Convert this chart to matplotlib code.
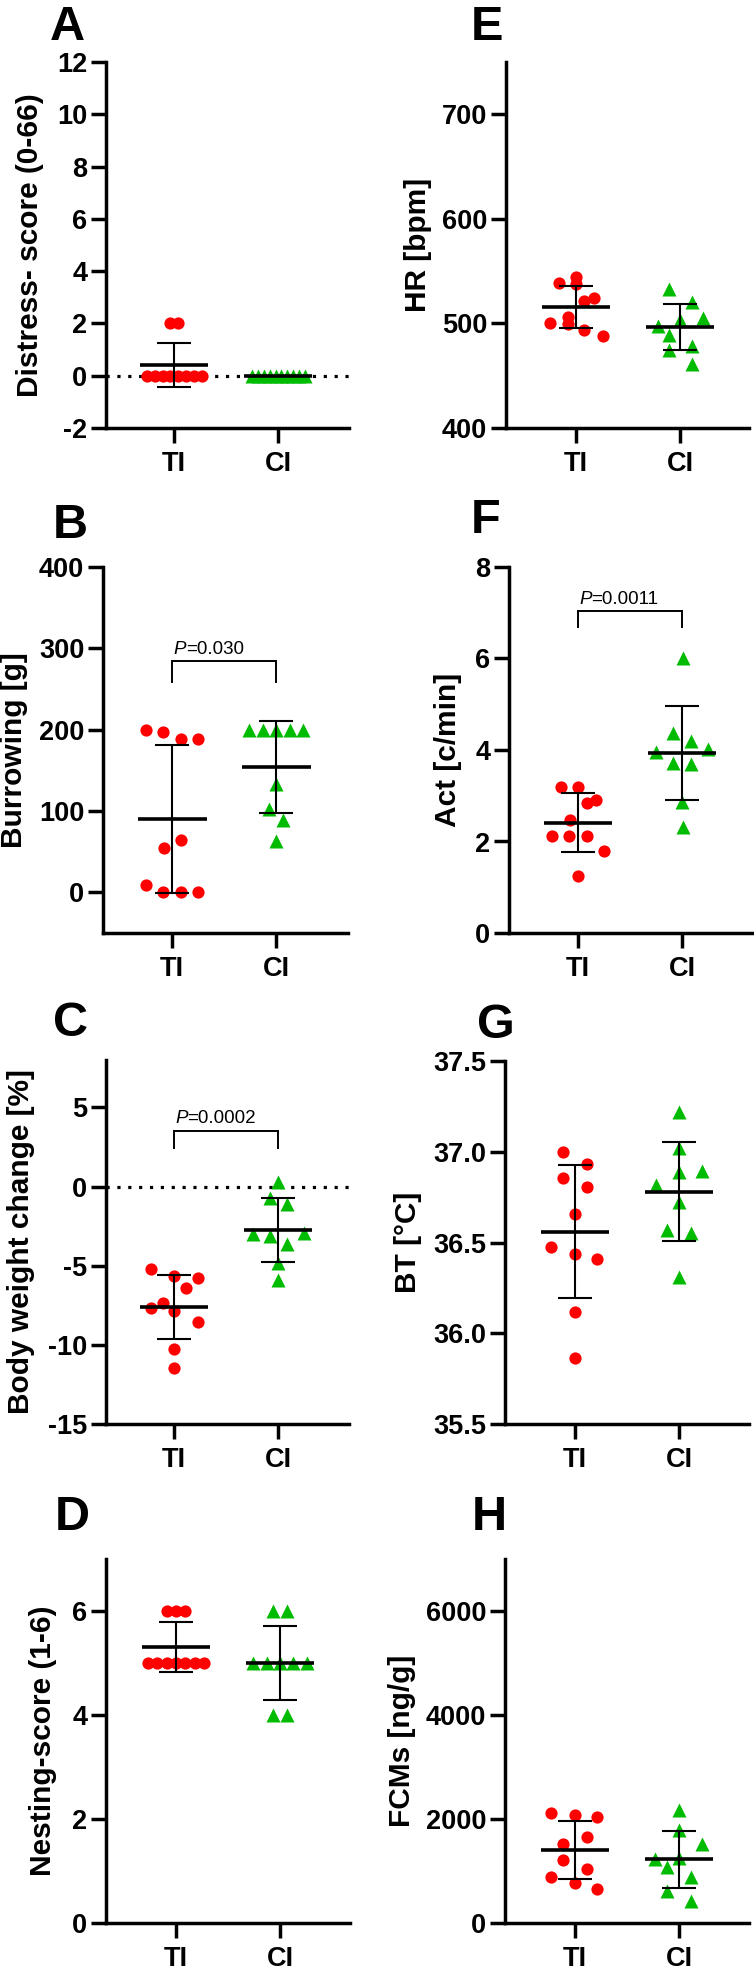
import matplotlib
matplotlib.use('Agg')
import matplotlib.pyplot as plt
from matplotlib.ticker import FormatStrFormatter

plt.rcParams['font.family'] = ['Liberation Sans', 'DejaVu Sans']
plt.rcParams['font.weight'] = 'bold'
plt.rcParams['axes.unicode_minus'] = False

W, H = 754, 1969
RED = '#FF0000'
GREEN = '#00BB00'

groups = ['TI', 'CI']

# ---------------- data ----------------
# A: Distress-score
A_TI = [2, 2, 0, 0, 0, 0, 0, 0, 0, 0]
A_CI = [0, 0, 0, 0, 0, 0, 0, 0, 0, 0]
A_MEAN = [0.4, 0.0]
A_SD = [0.84, 0.0]
# B: Burrowing
B_TI = [199, 197, 188, 188, 55, 64, 9, 0, 0, 0]
B_CI = [200, 200, 200, 200, 200, 133, 103, 89, 63]
B_MEAN = [90, 154]
B_SD = [91, 56.6]
# C: Body weight change
C_TI = [-5.2, -5.65, -5.8, -6.4, -7.35, -7.7, -7.85, -8.55, -10.25, -11.45]
C_CI = [0.3, -0.7, -1.1, -3.0, -3.1, -2.9, -3.65, -4.8, -5.9]
C_MEAN = [-7.62, -2.75]
C_SD = [2.02, 2.0]
# D: Nesting-score
D_TI = [6, 6, 6, 5, 5, 5, 5, 5, 5, 5]
D_CI = [6, 6, 5, 5, 5, 5, 5, 4, 4]
D_MEAN = [5.3, 5.0]
D_SD = [0.48, 0.71]
# E: HR
E_TI = [539, 544, 537.5, 524, 521.5, 506.5, 500, 499, 494, 488]
E_CI = [533, 520.5, 505.5, 498, 503, 489, 475, 478.5, 461]
E_MEAN = [515.5, 496.5]
E_SD = [20, 22]
# F: Act
F_TI = [3.2, 3.2, 2.85, 2.9, 2.48, 2.12, 2.12, 2.12, 1.8, 1.24]
F_CI = [6.0, 4.38, 4.2, 3.96, 4.03, 3.72, 3.69, 2.87, 2.32]
F_MEAN = [2.41, 3.93]
F_SD = [0.64, 1.03]
# G: BT
G_TI = [37.0, 36.935, 36.853, 36.807, 36.655, 36.477, 36.437, 36.407, 36.116, 35.863]
G_CI = [37.22, 37.02, 36.89, 36.895, 36.816, 36.725, 36.569, 36.554, 36.312]
G_MEAN = [36.56, 36.78]
G_SD = [0.367, 0.272]
# H: FCMs
H_TI = [2113, 2081, 2030, 1645, 1517, 1216, 1044, 877, 768, 653]
H_CI = [2177, 1780, 1524, 1229, 1248, 1076, 883, 608, 416]
H_MEAN = [1400, 1225]
H_SD = [555, 550]

P_B = '=0.030'
P_C = '=0.0002'
P_F = '=0.0011'

# ---------------- layout (horizontal scatter offsets etc.) ----------------
A_TI_OFF = [-0.04, 0.04, -0.26, -0.185, -0.11, -0.035, 0.04, 0.115, 0.19, 0.265]
A_CI_OFF = [-0.25, -0.193, -0.137, -0.08, -0.023, 0.033, 0.09, 0.147, 0.203, 0.26]
B_TI_OFF = [-0.247, -0.087, 0.083, 0.25, -0.077, 0.083, -0.247, -0.087, 0.083, 0.25]
B_CI_OFF = [-0.26, -0.13, 0, 0.13, 0.26, 0, -0.065, 0.07, 0]
C_TI_OFF = [-0.22, 0, 0.23, 0.12, -0.11, -0.22, 0, 0.23, 0, 0]
C_CI_OFF = [0, -0.08, 0.09, -0.24, -0.08, 0.25, 0.09, 0, 0]
D_TI_OFF = [-0.085, 0, 0.085, -0.27, -0.18, -0.09, 0, 0.09, 0.18, 0.27]
D_CI_OFF = [-0.064, 0.064, -0.256, -0.128, 0, 0.128, 0.256, -0.064, 0.064]
E_TI_OFF = [-0.167, 0, 0, 0.17, 0.08, -0.08, -0.253, -0.08, 0.08, 0.256]
E_CI_OFF = [-0.106, 0.112, 0.224, -0.215, 0, -0.106, -0.106, 0.112, 0.112]
F_TI_OFF = [-0.163, 0, 0.087, 0.173, -0.08, -0.25, -0.083, 0.087, 0.253, 0]
F_CI_OFF = [0.01, -0.087, 0.087, -0.247, 0.25, -0.087, 0.087, 0, 0.01]
G_TI_OFF = [-0.112, 0.112, -0.112, 0.112, 0, -0.228, 0, 0.215, 0, 0]
G_CI_OFF = [0, 0, 0, 0.218, -0.224, 0, -0.112, 0.112, 0]
H_TI_OFF = [-0.228, 0, 0.215, 0.112, -0.112, -0.112, 0.112, -0.228, 0, 0.215]
H_CI_OFF = [0, 0, 0.218, -0.23, 0, -0.112, 0.112, -0.112, 0.112]

panels = [
    dict(letter='A', lpos=(50, 40), box=(106, 62, 349, 428), xlim=(-0.654, 1.683),
         ylim=(-2, 12), yticks=[-2, 0, 2, 4, 6, 8, 10, 12], ylabel='Distress- score (0-66)', labx=30,
         ti=A_TI, ci=A_CI, tio=A_TI_OFF, cio=A_CI_OFF, mean=A_MEAN, sd=A_SD, zero=True, p=None),
    dict(letter='B', lpos=(53, 538), box=(103, 567, 348, 933), xlim=(-0.665, 1.69),
         ylim=(-50, 400), yticks=[0, 100, 200, 300, 400], ylabel='Burrowing [g]', labx=14,
         ti=B_TI, ci=B_CI, tio=B_TI_OFF, cio=B_CI_OFF, mean=B_MEAN, sd=B_SD, zero=False,
         p=(P_B, 284, 258)),
    dict(letter='C', lpos=(53, 1036), box=(106, 1060, 349, 1424), xlim=(-0.654, 1.683),
         ylim=(-15, 8), yticks=[-15, -10, -5, 0, 5], ylabel='Body weight change [%]', labx=21,
         ti=C_TI, ci=C_CI, tio=C_TI_OFF, cio=C_CI_OFF, mean=C_MEAN, sd=C_SD, zero=True,
         p=(P_C, 3.52, 2.47)),
    dict(letter='D', lpos=(55, 1530), box=(106, 1559, 350, 1923), xlim=(-0.673, 1.673),
         ylim=(0, 7), yticks=[0, 2, 4, 6], ylabel='Nesting-score (1-6)', labx=43,
         ti=D_TI, ci=D_CI, tio=D_TI_OFF, cio=D_CI_OFF, mean=D_MEAN, sd=D_SD, zero=False, p=None),
    dict(letter='E', lpos=(471, 40), box=(506, 62, 749, 428), xlim=(-0.673, 1.663),
         ylim=(400, 750), yticks=[400, 500, 600, 700], ylabel='HR [bpm]', labx=418,
         ti=E_TI, ci=E_CI, tio=E_TI_OFF, cio=E_CI_OFF, mean=E_MEAN, sd=E_SD, zero=False, p=None),
    dict(letter='F', lpos=(471, 533), box=(509, 567, 752, 933), xlim=(-0.663, 1.673),
         ylim=(0, 8), yticks=[0, 2, 4, 6, 8], ylabel='Act [c/min]', labx=448,
         ti=F_TI, ci=F_CI, tio=F_TI_OFF, cio=F_CI_OFF, mean=F_MEAN, sd=F_SD, zero=False,
         p=(P_F, 7.03, 6.69)),
    dict(letter='G', lpos=(477, 1038), box=(505, 1061, 749, 1424), xlim=(-0.673, 1.673),
         ylim=(35.5, 37.5), yticks=[35.5, 36.0, 36.5, 37.0, 37.5], ylabel='BT [°C]', labx=408,
         ti=G_TI, ci=G_CI, tio=G_TI_OFF, cio=G_CI_OFF, mean=G_MEAN, sd=G_SD, zero=False, p=None,
         fmt='%.1f'),
    dict(letter='H', lpos=(472, 1530), box=(505, 1559, 749, 1923), xlim=(-0.673, 1.673),
         ylim=(0, 7000), yticks=[0, 2000, 4000, 6000], ylabel='FCMs [ng/g]', labx=402,
         ti=H_TI, ci=H_CI, tio=H_TI_OFF, cio=H_CI_OFF, mean=H_MEAN, sd=H_SD, zero=False, p=None),
]

fig = plt.figure(figsize=(W / 100, H / 100), dpi=100)

for pn in panels:
    l, t, r, b = pn['box']
    ax = fig.add_axes([l / W, 1 - b / H, (r - l) / W, (b - t) / H])
    ax.set_xlim(*pn['xlim'])
    ax.set_ylim(*pn['ylim'])
    for s in ('top', 'right'):
        ax.spines[s].set_visible(False)
    for s in ('left', 'bottom'):
        ax.spines[s].set_linewidth(2.5)
    ax.set_xticks([0, 1])
    ax.set_xticklabels(groups)
    ax.set_yticks(pn['yticks'])
    if 'fmt' in pn:
        ax.yaxis.set_major_formatter(FormatStrFormatter(pn['fmt']))
    ax.tick_params(axis='both', width=2.5, length=10.5, labelsize=19.5)
    ax.tick_params(axis='y', pad=3)
    ax.tick_params(axis='x', pad=6)

    if pn['zero']:
        ax.axhline(0, color='k', lw=2.3, ls=(0, (1, 2.4)), zorder=1)

    # points
    ax.plot([0 + o for o in pn['tio']], pn['ti'], 'o', ms=8.8, color=RED, mec='none',
            zorder=2, clip_on=False)
    ax.plot([1 + o for o in pn['cio']], pn['ci'], '^', ms=9.5, color=GREEN, mec='none',
            zorder=2, clip_on=False)

    # mean and SD
    for gx, m, sd in zip([0, 1], pn['mean'], pn['sd']):
        ax.plot([gx - 0.33, gx + 0.33], [m, m], color='k', lw=2.6, zorder=3,
                solid_capstyle='butt')
        if sd > 0:
            ax.errorbar([gx], [m], yerr=[sd], fmt='none', ecolor='k', elinewidth=1.5,
                        capsize=12.5, capthick=1.5, zorder=3)

    # significance bracket
    if pn['p'] is not None:
        ptxt, ytop, yleg = pn['p']
        ax.plot([0, 0, 1, 1], [yleg, ytop, ytop, yleg], color='k', lw=1.4, zorder=3,
                solid_joinstyle='miter')
        tp = ax.annotate('P', xy=(0.01, ytop), xytext=(0, 2.5), textcoords='offset points',
                         fontsize=13.5, fontweight='normal', style='italic',
                         ha='left', va='bottom')
        ax.annotate(ptxt, xy=(1, 0), xycoords=tp, fontsize=13.5, fontweight='normal',
                    ha='left', va='bottom')

    ax.set_ylabel(pn['ylabel'], fontsize=21.5, fontweight='bold', va='center', ha='center')
    ax.yaxis.set_label_coords((pn['labx'] - l) / (r - l), 0.5)

    lx, ly = pn['lpos']
    fig.text(lx / W, 1 - ly / H, pn['letter'], fontsize=35, fontweight='bold',
             ha='left', va='baseline')

fig.savefig('out.png', dpi=100)
